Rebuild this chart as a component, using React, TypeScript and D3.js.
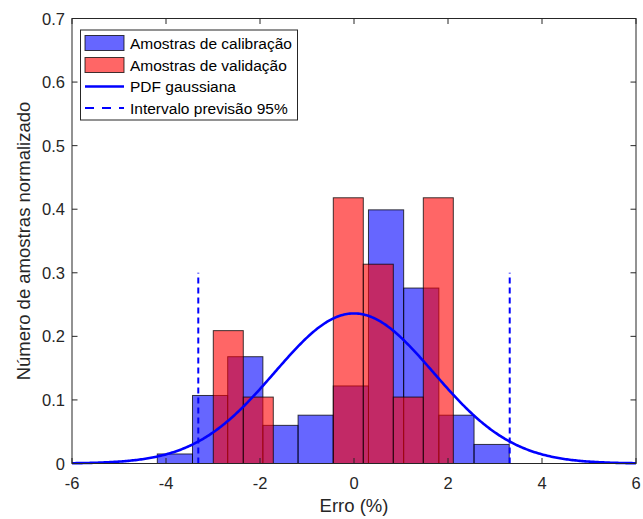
import React from 'react';
import * as d3 from 'd3';

// ---- data ----
const calRange = [-4.185, 3.303]; // histogram range (10 equal bins)
const calValues = [0.015, 0.107, 0.168, 0.06, 0.076, 0.122, 0.399, 0.276, 0.076, 0.03];
const valRange = [-2.994, 2.113]; // histogram range (8 equal bins)
const valValues = [0.209, 0.1045, 0, 0, 0.418, 0.3135, 0.1045, 0.418];
const gaussMean = 0.0;
const gaussSigma = 1.69;
const intervalX = [-3.313, 3.313];
const intervalTop = 0.3;
const xTicks = [-6, -4, -2, 0, 2, 4, 6];
const yTicks = [0, 0.1, 0.2, 0.3, 0.4, 0.5, 0.6, 0.7];
const legendLabels = [
  'Amostras de calibração',
  'Amostras de validação',
  'PDF gaussiana',
  'Intervalo previsão 95%',
];

const W = 643;
const H = 519;
const M = { left: 72, right: 636, top: 18.5, bottom: 463.5 };
const FONT = '"Liberation Sans", Arial, Helvetica, sans-serif';
const AX = '#262626';

function bins(range: number[], values: number[]) {
  const w = (range[1] - range[0]) / values.length;
  return values.map((v, i) => ({ x0: range[0] + i * w, x1: range[0] + (i + 1) * w, v }));
}

export default function App() {
  const x = d3.scaleLinear().domain([-6, 6]).range([M.left, M.right]);
  const y = d3.scaleLinear().domain([0, 0.7]).range([M.bottom, M.top]);

  const calBins = bins(calRange, calValues);
  const valBins = bins(valRange, valValues);

  const xs = d3.range(0, 401).map((i) => -6 + (12 * i) / 400);
  const pdf = (t: number) =>
    Math.exp(-0.5 * ((t - gaussMean) / gaussSigma) ** 2) / (gaussSigma * Math.sqrt(2 * Math.PI));
  const line = d3
    .line<number>()
    .x((t) => x(t))
    .y((t) => y(pdf(t)))
    .curve(d3.curveLinear);

  const tick = 5.5;
  const lg = { x: 80.5, y: 30, w: 217, h: 90 };
  const rowY = [43, 65, 86.5, 108];

  return (
    <svg
      width={W}
      height={H}
      style={{ position: 'absolute', left: 0, top: 0, background: '#fff' }}
      fontFamily={FONT}
    >
      <rect x={0} y={0} width={W} height={H} fill="#fff" />
      {/* calibration bars */}
      {calBins
        .filter((b) => b.v > 0)
        .map((b, i) => (
          <rect
            key={'c' + i}
            x={x(b.x0)}
            y={y(b.v)}
            width={x(b.x1) - x(b.x0)}
            height={y(0) - y(b.v)}
            fill="rgb(0,0,255)"
            fillOpacity={0.6}
            stroke="#000"
            strokeOpacity={0.75}
            strokeWidth={1}
          />
        ))}
      {/* validation bars */}
      {valBins
        .filter((b) => b.v > 0)
        .map((b, i) => (
          <rect
            key={'v' + i}
            x={x(b.x0)}
            y={y(b.v)}
            width={x(b.x1) - x(b.x0)}
            height={y(0) - y(b.v)}
            fill="rgb(255,0,0)"
            fillOpacity={0.6}
            stroke="#000"
            strokeOpacity={0.75}
            strokeWidth={1}
          />
        ))}
      {/* gaussian pdf */}
      <path d={line(xs) || ''} fill="none" stroke="#0000ff" strokeWidth={2.6} />
      {/* 95% interval */}
      {intervalX.map((v, i) => (
        <line
          key={'iv' + i}
          x1={x(v)}
          x2={x(v)}
          y1={y(0)}
          y2={y(intervalTop)}
          stroke="#0000ff"
          strokeWidth={2}
          strokeDasharray="6 4"
        />
      ))}
      {/* axes box */}
      <rect
        x={M.left}
        y={M.top}
        width={M.right - M.left}
        height={M.bottom - M.top}
        fill="none"
        stroke={AX}
        strokeWidth={1}
      />
      {xTicks.map((t) => (
        <g key={'xt' + t}>
          <line x1={x(t)} x2={x(t)} y1={M.bottom} y2={M.bottom - tick} stroke={AX} />
          <line x1={x(t)} x2={x(t)} y1={M.top} y2={M.top + tick} stroke={AX} />
          <text x={x(t)} y={M.bottom + 25} textAnchor="middle" fontSize={16.5} fill={AX}>
            {t}
          </text>
        </g>
      ))}
      {yTicks.map((t) => (
        <g key={'yt' + t}>
          <line x1={M.left} x2={M.left + tick} y1={y(t)} y2={y(t)} stroke={AX} />
          <line x1={M.right} x2={M.right - tick} y1={y(t)} y2={y(t)} stroke={AX} />
          <text x={M.left - 7} y={y(t) + 6} textAnchor="end" fontSize={16.5} fill={AX}>
            {t === 0 ? '0' : d3.format('.1f')(t)}
          </text>
        </g>
      ))}
      <text x={(M.left + M.right) / 2} y={512} textAnchor="middle" fontSize={18.5} fill={AX}>
        Erro (%)
      </text>
      <text
        transform={`translate(29.5,${(M.top + M.bottom) / 2}) rotate(-90)`}
        textAnchor="middle"
        fontSize={18.5}
        fill={AX}
      >
        Número de amostras normalizado
      </text>
      {/* legend */}
      <rect x={lg.x} y={lg.y} width={lg.w} height={lg.h} fill="#fff" stroke={AX} strokeWidth={1} />
      <rect x={85} y={rowY[0] - 7.5} width={39} height={15} fill="rgb(0,0,255)" fillOpacity={0.6} stroke="#000" strokeOpacity={0.75} />
      <rect x={85} y={rowY[1] - 7.5} width={39} height={15} fill="rgb(255,0,0)" fillOpacity={0.6} stroke="#000" strokeOpacity={0.75} />
      <line x1={85} x2={124} y1={rowY[2]} y2={rowY[2]} stroke="#0000ff" strokeWidth={2.6} />
      <line x1={85} x2={124} y1={rowY[3]} y2={rowY[3]} stroke="#0000ff" strokeWidth={2} strokeDasharray="9 8" />
      {legendLabels.map((s, i) => (
        <text key={s} x={130} y={rowY[i] + 5.5} fontSize={15.5} fill="#000">
          {s}
        </text>
      ))}
    </svg>
  );
}
